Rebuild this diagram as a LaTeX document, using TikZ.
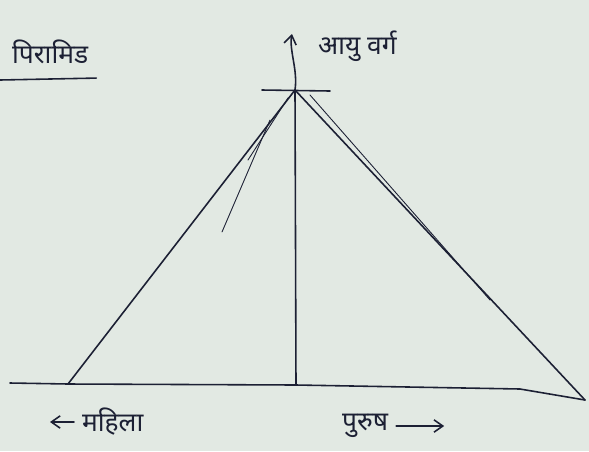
\documentclass[tikz,border=0pt]{standalone}
\usepackage{fontspec}
\newfontfamily\deva[Script=Devanagari]{Noto Sans}
\definecolor{PaperGrey}{RGB}{226,233,227}
\definecolor{InkBlue}{RGB}{28,32,52}
\usetikzlibrary{arrows.meta, positioning, calc}

\begin{document}
\begin{tikzpicture}[
        x=0.02cm,y=-0.02cm,
        ink/.style={draw=InkBlue,line width=0.9pt,line cap=round},
        label/.style={font=\deva\fontsize{15}{18}\selectfont,text=InkBlue,inner sep=1pt},
        arr/.style={ink,-{Straight Barb[length=5pt,width=7pt]}}
      ]
        \fill[PaperGrey] (0,0) rectangle (589,451);
        \useasboundingbox (0,0) rectangle (589,451);

        % pyramid corners
        \coordinate (apex) at (295,90);
        \coordinate (baseL) at (68,384);
        \coordinate (baseR) at (585,400);
        \coordinate (baseM) at (296,385);
        \coordinate (axisL) at (10,383);
        \coordinate (axisR) at (520,389);
        \coordinate (capL) at (262,90);
        \coordinate (capR) at (330,91);
        \coordinate (ageTop) at (292,34);

        % title
        \node[label,anchor=west] (title) at (10,52) {पिरामिड};
        \draw[ink] (0,80) -- ($(title.south east)+(6,12)$);

        % age axis
        \draw[arr] (apex) .. controls (298,70) and (289,50) .. (ageTop);
        \node[label,anchor=west] (age) at (316,46) {आयु वर्ग};

        % axes and slopes
        \draw[ink] (capL) -- (capR);
        \draw[ink] (apex) -- (baseM);
        \draw[ink] (axisL) -- (baseL) -- (baseM) -- (axisR) -- (baseR);
        \draw[ink] (baseL) -- (apex) -- (baseR);
        \draw[ink,line width=0.5pt] (288,98) -- (248,160);
        \draw[ink,line width=0.5pt] (270,120) -- (222,232);
        \draw[ink,line width=0.5pt] (310,95) -- (490,300);

        % sex labels
        \node[label,anchor=west] (female) at (80,422) {महिला};
        \coordinate (femStart) at ($(female.west)+(-6,0)$);
        \draw[arr] (femStart) -- ++(-24,0);
        \node[label,anchor=west] (male) at (340,426) {पुरुष};
        \coordinate (maleEnd) at ($(male.east)+(6,0)$);
        \draw[arr] (maleEnd) -- ++(48,0);
\end{tikzpicture}
\end{document}
